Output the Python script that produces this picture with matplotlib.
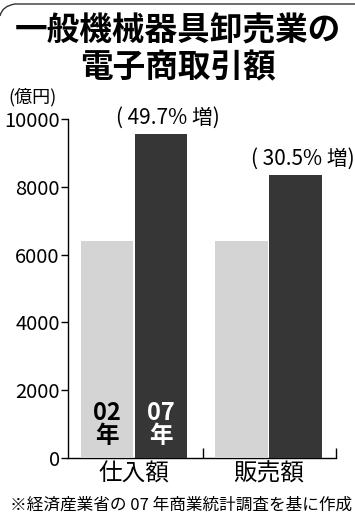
import matplotlib.pyplot as plt
from matplotlib.path import Path
from matplotlib.patches import PathPatch
import numpy as np

plt.rcParams['font.family'] = ['Noto Sans CJK JP', 'DejaVu Sans']

categories = ["仕入額", "販売額"]
years = ["02\n年", "07\n年"]
values_02 = [6390, 6390]
values_07 = [9570, 8340]
growth = ["( 49.7% 増)", "( 30.5% 増)"]
yticks = [0, 2000, 4000, 6000, 8000, 10000]

fig = plt.figure(figsize=(3.55, 5.2), dpi=100)
ax = fig.add_axes([68 / 355, 1 - 458 / 520, 268 / 355, 339 / 520])

xpos = np.arange(len(categories))
w = 0.39
ax.bar(xpos - 0.2, values_02, width=w, color="#d4d4d4", zorder=3)
ax.bar(xpos + 0.2, values_07, width=w, color="#363636", zorder=3)

ax.set_xlim(-0.49, 1.5)
ax.set_ylim(0, 10000)
ax.set_yticks(yticks)
ax.set_yticklabels([str(v) for v in yticks], fontsize=14.5)
ax.tick_params(axis="y", length=5, width=1, pad=1)
ax.set_xticks(xpos)
ax.set_xticklabels(categories, fontsize=17)
ax.tick_params(axis="x", length=0, pad=3)
ax.set_xticks([0.513, 1.5], minor=True)
ax.tick_params(axis="x", which="minor", direction="in", length=7, width=1)
for s in ["top", "right"]:
    ax.spines[s].set_visible(False)
ax.spines["left"].set_linewidth(1)
ax.spines["bottom"].set_linewidth(1)

# year labels inside first group
ax.text(xpos[0] - 0.2, 1000, years[0], ha="center", va="center", fontsize=17,
        fontweight="bold", color="black", linespacing=0.95, zorder=4)
ax.text(xpos[0] + 0.2, 1000, years[1], ha="center", va="center", fontsize=17,
        fontweight="bold", color="white", linespacing=0.95, zorder=4)

# growth annotations
for i, g in enumerate(growth):
    ax.text(xpos[i] + 0.25, values_07[i] + 150, g, ha="center", va="bottom",
            fontsize=15, zorder=4)

# title and notes
fig.text(0.5, 1 - 31 / 520, "一般機械器具卸売業の", ha="center", va="center",
         fontsize=23.5, fontweight="bold")
fig.text(0.5, 1 - 68 / 520, "電子商取引額", ha="center", va="center",
         fontsize=23.5, fontweight="bold")
fig.text(8 / 355, 1 - 97 / 520, "(億円)", ha="left", va="center", fontsize=13)
fig.text(352 / 355, 1 - 505 / 520, "※経済産業省の 07 年商業統計調査を基に作成",
         ha="right", va="center", fontsize=12)

# rounded frame at top
verts = [(0 / 355, 1 - 16 / 520), (2 / 355, 1 - 6 / 520), (15 / 355, 1 - 4 / 520),
         (355 / 355, 1 - 4 / 520)]
codes = [Path.MOVETO, Path.CURVE3, Path.CURVE3, Path.LINETO]
fig.patches.append(PathPatch(Path(verts, codes), transform=fig.transFigure,
                             fill=False, lw=1, edgecolor="#333333"))

fig.savefig("out.png", dpi=100)
